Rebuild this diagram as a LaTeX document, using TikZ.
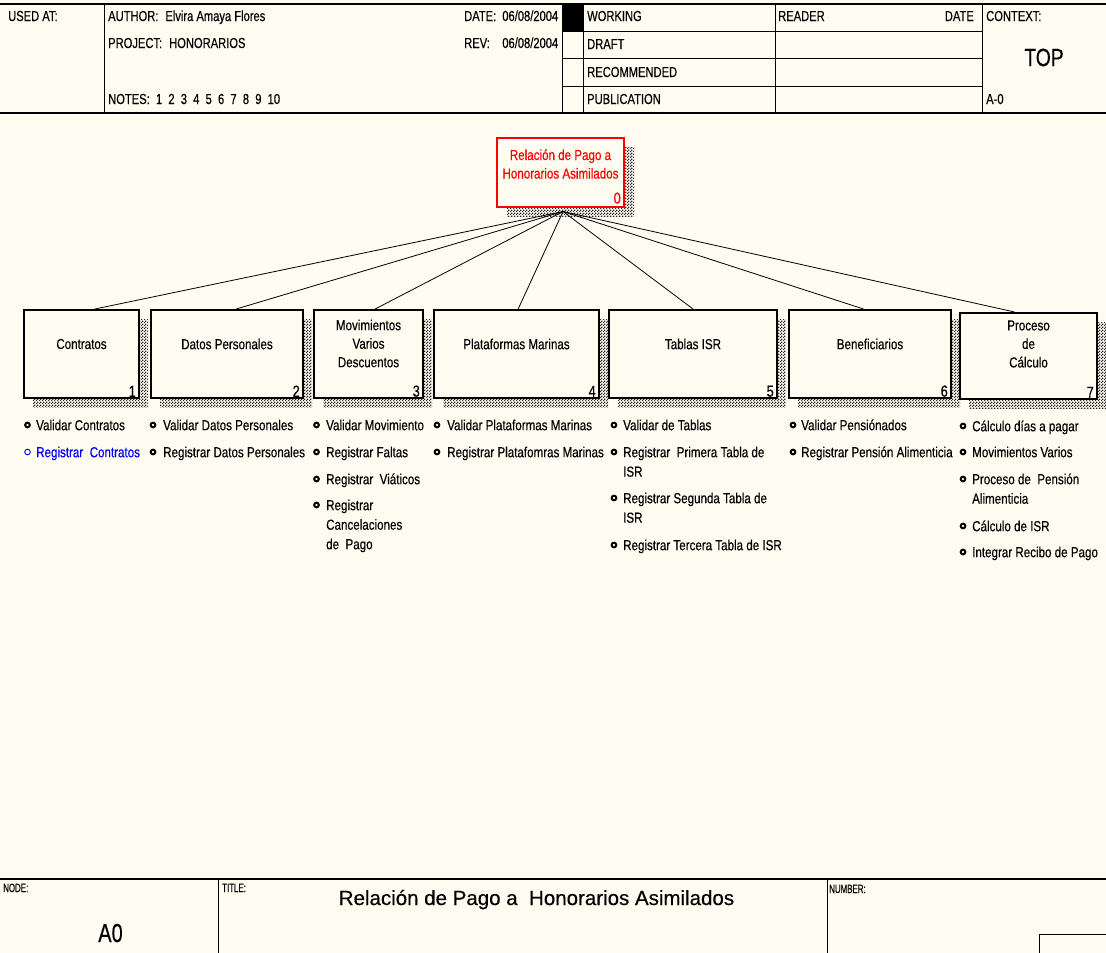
\documentclass[tikz,border=0pt]{standalone}
\usepackage{fontspec}
\setmainfont{Liberation Sans}[FakeStretch=0.8, FakeBold=0.35]
\newfontfamily\hdrfont{Liberation Sans}[FakeStretch=0.77, FakeBold=0.35]
\newfontfamily\tagfont{Liberation Sans}[FakeStretch=0.66, FakeBold=0.3]
\newfontfamily\titlefont{Liberation Sans}[FakeBold=0.3]
\usetikzlibrary{calc,shadows,patterns}

% coarse checkerboard used for the box shadows
\pgfdeclarepatternformonly{checker}{\pgfpointorigin}{\pgfpoint{3pt}{3pt}}{\pgfpoint{3pt}{3pt}}{%
  \pgfpathrectangle{\pgfpointorigin}{\pgfpoint{1.5pt}{1.5pt}}%
  \pgfpathrectangle{\pgfpoint{1.5pt}{1.5pt}}{\pgfpoint{1.5pt}{1.5pt}}%
  \pgfusepath{fill}}

\definecolor{paper}{RGB}{255,252,241}
\definecolor{idefred}{RGB}{255,0,0}
\definecolor{idefblue}{RGB}{0,0,255}

\newcommand\listentry[5]{% name, bullet x, text x, row y, text
  \node[bul] (#1-b) at (#2,#4) {};
  \node[entrytext] (#1) at (#3,#4) {\strut #5};}

\tikzset{
  frame/.style={line width=1.6pt},
  rule/.style={line width=0.9pt},
  hdr/.style={anchor=base west, inner sep=0, font=\hdrfont\fontsize{14.5}{16}\selectfont},
  tag/.style={anchor=base west, inner sep=0, font=\tagfont\fontsize{12}{14}\selectfont},
  shade box/.style={drop shadow={shadow xshift=#1, shadow yshift=-9pt, opacity=1,
      pattern=checker, pattern color=black!85}},
  pbox/.style={draw, line width=2pt, fill=paper, inner sep=0, minimum height=88pt, shade box=9pt},
  rootbox/.style={draw=idefred, line width=2pt, fill=paper, inner sep=0,
      minimum width=127pt, minimum height=69pt, shade box=10pt},
  boxlabel/.style={inner sep=0, align=center, font=\fontsize{14.5}{18.5}\selectfont},
  boxnum/.style={anchor=south east, inner sep=0, xshift=-4pt, yshift=2pt, font=\fontsize{16}{18}\selectfont},
  link/.style={line width=0.8pt},
  bul/.style={circle, draw, line width=2pt, inner sep=0, minimum size=4.6pt, fill=paper},
  bulblue/.style={circle, draw=idefblue, line width=0.9pt, inner sep=0, minimum size=5.6pt},
  entrytext/.style={anchor=north west, inner sep=0, yshift=8.65pt, align=left,
      font=\fontsize{14.5}{19.5}\selectfont},
}

\begin{document}
\begin{tikzpicture}[x=1pt, y=-1pt]
\useasboundingbox (0,0) rectangle (1106,953);
\fill[paper] (0,0) rectangle (1106,953);

% ---------- header frame ----------
\draw[frame] (0,4) -- (1106,4);
\draw[frame] (0,113) -- (1106,113);
\draw[rule] (104,4) -- (104,113);
\draw[rule] (562,4) -- (562,113);
\draw[rule] (583,4) -- (583,113);
\draw[rule] (775,4) -- (775,113);
\draw[rule] (982,4) -- (982,113);
\draw[rule] (562,31) -- (982,31);
\draw[rule] (562,58) -- (982,58);
\draw[rule] (562,86) -- (982,86);
\fill (562,4) rectangle (583,31);

\node[hdr] (usedat) at (8,21) {USED AT:};
\node[hdr] (author) at (108,21) {AUTHOR:\hspace{7pt}Elvira Amaya Flores};
\node[hdr] (project) at (108,48) {PROJECT:\hspace{7pt}HONORARIOS};
\node[hdr] (notes) at (108,104) {NOTES:~ 1~ 2~ 3~ 4~ 5~ 6~ 7~ 8~ 9~ 10};
\node[hdr] (date) at (464,21) {\makebox[94pt][l]{DATE:\hfill 06/08/2004}};
\node[hdr] (rev) at (464,48) {\makebox[94pt][l]{REV:\hfill 06/08/2004}};
\node[hdr] (working) at (587,21) {WORKING};
\node[hdr] (draft) at (587,49) {DRAFT};
\node[hdr] (recommended) at (587,77) {RECOMMENDED};
\node[hdr] (publication) at (587,104) {PUBLICATION};
\node[hdr] (reader) at (778,21) {READER};
\node[hdr, anchor=base east] (rdate) at (974,21) {DATE};
\node[hdr] (context) at (986,21) {CONTEXT:};
\node[inner sep=0, font=\hdrfont\fontsize{25}{28}\selectfont] (top) at (1044,57.5) {TOP};
\node[hdr] (ctxnode) at (986,104) {A-0};

% ---------- parent activity ----------
\node[rootbox] (root) at (560.5,172.5) {};
\node[boxlabel, text=idefred] (root-t) at ([yshift=8.5pt]root.center) {Relación de Pago a\\Honorarios Asimilados};
\node[boxnum, text=idefred, yshift=2pt] (root-n) at (root.south east) {0};
\coordinate (hub) at ([xshift=2.5pt, yshift=-3.5pt]root.south);

% ---------- child activities ----------
\node[pbox, minimum width=115pt] (b1) at (81.5,354) {};
\node[pbox, minimum width=152pt] (b2) at (227,354) {};
\node[pbox, minimum width=109pt] (b3) at (368.5,354) {};
\node[pbox, minimum width=165pt] (b4) at (516.5,354) {};
\node[pbox, minimum width=168pt] (b5) at (693,354) {};
\node[pbox, minimum width=162pt] (b6) at (870,354) {};
\node[pbox, minimum width=137pt, minimum height=86pt] (b7) at (1028.5,356) {};

\node[boxlabel] (b1-t) at ([yshift=10pt]b1.center) {Contratos};
\node[boxlabel] (b2-t) at ([yshift=10pt]b2.center) {Datos Personales};
\node[boxlabel] (b3-t) at ([yshift=10.5pt]b3.center) {Movimientos\\Varios\\Descuentos};
\node[boxlabel] (b4-t) at ([yshift=10pt]b4.center) {Plataformas Marinas};
\node[boxlabel] (b5-t) at ([yshift=10pt]b5.center) {Tablas ISR};
\node[boxlabel] (b6-t) at ([yshift=10pt]b6.center) {Beneficiarios};
\node[boxlabel] (b7-t) at ([yshift=12pt]b7.center) {Proceso\\de\\Cálculo};

\node[boxnum] (b1-n) at (b1.south east) {1};
\node[boxnum] (b2-n) at (b2.south east) {2};
\node[boxnum] (b3-n) at (b3.south east) {3};
\node[boxnum] (b4-n) at (b4.south east) {4};
\node[boxnum] (b5-n) at (b5.south east) {5};
\node[boxnum] (b6-n) at (b6.south east) {6};
\node[boxnum] (b7-n) at (b7.south east) {7};

% ---------- decomposition links ----------
\draw[link] (hub) -- ($(b1.north west)!0.615!(b1.north east)$);
\draw[link] (hub) -- ($(b2.north west)!0.56!(b2.north east)$);
\draw[link] (hub) -- ($(b3.north west)!0.56!(b3.north east)$);
\draw[link] (hub) -- ($(b4.north west)!0.51!(b4.north east)$);
\draw[link] (hub) -- ($(b5.north west)!0.50!(b5.north east)$);
\draw[link] (hub) -- ($(b6.north west)!0.46!(b6.north east)$);
\draw[link] (hub) -- ($(b7.north west)!0.40!(b7.north east)$);

% ---------- sub-activity lists ----------
\listentry{c1a}{27.5}{36}{425}{Validar Contratos}
\node[bulblue] (c1b-b) at (27.5,452) {};
\node[entrytext, text=idefblue] (c1b) at (36,452) {\strut Registrar~ Contratos};

\listentry{c2a}{153}{163}{425}{Validar Datos Personales}
\listentry{c2b}{153}{163}{452}{Registrar Datos Personales}

\listentry{c3a}{316.5}{326}{425}{Validar Movimiento}
\listentry{c3b}{316.5}{326}{452}{Registrar Faltas}
\listentry{c3c}{316.5}{326}{479}{Registrar~ Viáticos}
\listentry{c3d}{316.5}{326}{505}{Registrar\\Cancelaciones\\de~ Pago}

\listentry{c4a}{437}{447}{425}{Validar Plataformas Marinas}
\listentry{c4b}{437}{447}{452}{Registrar Platafomras Marinas}

\listentry{c5a}{614}{623}{425}{Validar de Tablas}
\listentry{c5b}{614}{623}{452}{Registrar~ Primera Tabla de\\ISR}
\listentry{c5c}{614}{623}{498}{Registrar Segunda Tabla de\\ISR}
\listentry{c5d}{614}{623}{545}{Registrar Tercera Tabla de ISR}

\listentry{c6a}{793}{801}{425}{Validar Pensiónados}
\listentry{c6b}{793}{801}{452}{Registrar Pensión Alimenticia}

\listentry{c7a}{963}{972}{426}{Cálculo días a pagar}
\listentry{c7b}{963}{972}{452}{Movimientos Varios}
\listentry{c7c}{963}{972}{479}{Proceso de~ Pensión\\Alimenticia}
\listentry{c7d}{963}{972}{526}{Cálculo de ISR}
\listentry{c7e}{963}{972}{552}{Integrar Recibo de Pago}

% ---------- footer ----------
\draw[frame] (0,879) -- (1106,879);
\draw[rule] (218,879) -- (218,953);
\draw[rule] (827,879) -- (827,953);
\draw[rule] (1039,953) -- (1039,934) -- (1106,934);
\node[tag] (nodelbl) at (3,892) {NODE:};
\node[tag] (titlelbl) at (222,892) {TITLE:};
\node[tag] (numberlbl) at (829,893) {NUMBER:};
\node[anchor=base, inner sep=0, font=\hdrfont\fontsize{26}{28}\selectfont] (nodeval) at (110.5,942) {A0};
\node[anchor=base, inner sep=0, font=\titlefont\fontsize{20.5}{24}\selectfont] (titleval) at (536.5,905) {Relación de Pago a~ Honorarios Asimilados};
\end{tikzpicture}
\end{document}
